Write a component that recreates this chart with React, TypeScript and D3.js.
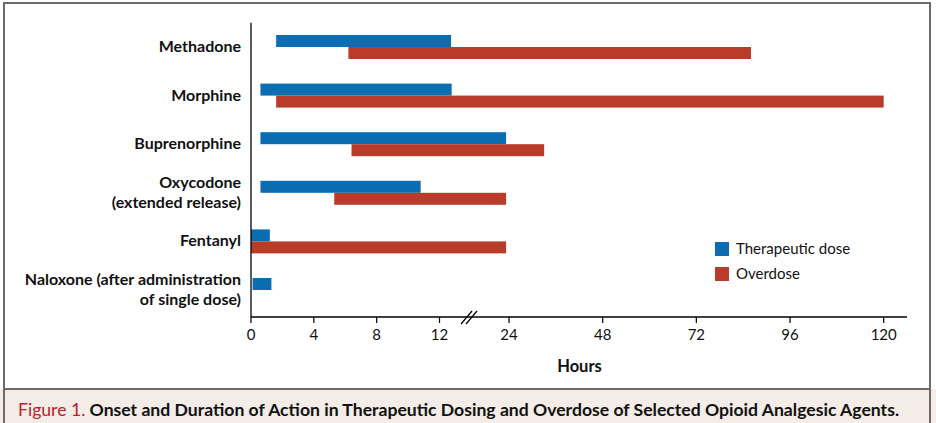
import React from "react";
import * as d3 from "d3";

const categories = [
  "Methadone",
  "Morphine",
  "Buprenorphine",
  "Oxycodone\n(extended release)",
  "Fentanyl",
  "Naloxone (after administration\nof single dose)",
];
const therapeuticStart = [1.6, 0.6, 0.6, 0.6, 0, 0.1];
const therapeuticEnd = [14, 14.1, 23.5, 10.8, 1.2, 1.3];
const overdoseStart: (number | null)[] = [6.2, 1.6, 6.4, 5.3, 0, null];
const overdoseEnd: (number | null)[] = [86, 120, 33, 23.5, 23.5, null];
const tickValues = [0, 4, 8, 12, 24, 48, 72, 96, 120];
const seriesNames = ["Therapeutic dose", "Overdose"];
const captionLead = "Figure 1.";
const captionText =
  " Onset and Duration of Action in Therapeutic Dosing and Overdose of Selected Opioid Analgesic Agents.";
const axisTitle = "Hours";

const BLUE = "#0c6db3";
const RED = "#b93c2b";
const FONT = "Lato, 'Open Sans', sans-serif";

export default function App() {
  const W = 936;
  const H = 423;
  const x = d3.scaleLinear().domain([0, 12, 24, 120]).range([251, 439.5, 509, 883.7]);
  const y = d3.scaleBand<string>().domain(categories).range([22.7, 314.3]);
  const axisY = 317;
  const barH = 12;
  const color = d3.scaleOrdinal<string, string>().domain(seriesNames).range([BLUE, RED]);

  return (
    <svg
      width={W}
      height={H}
      style={{ position: "absolute", left: 0, top: 0, background: "#fff" }}
      fontFamily={FONT}
    >
      {/* caption band */}
      <rect x={0} y={389} width={W} height={H - 389} fill="#f3ece7" />
      <rect x={4} y={3} width={926} height={H + 10} fill="none" stroke="#6b6b6b" strokeWidth={2} />
      <line x1={4} x2={930} y1={389} y2={389} stroke="#6b6b6b" strokeWidth={2} />

      {/* bars */}
      {categories.map((c, i) => {
        const cy = (y(c) as number) + y.bandwidth() / 2;
        const os = overdoseStart[i];
        const oe = overdoseEnd[i];
        return (
          <g key={c}>
            <rect
              x={x(therapeuticStart[i])}
              y={cy - barH}
              width={x(therapeuticEnd[i]) - x(therapeuticStart[i])}
              height={barH}
              fill={color(seriesNames[0])}
            />
            {os != null && oe != null && (
              <rect x={x(os)} y={cy} width={x(oe) - x(os)} height={barH} fill={color(seriesNames[1])} />
            )}
          </g>
        );
      })}

      {/* category labels */}
      {categories.map((c) => {
        const cy = (y(c) as number) + y.bandwidth() / 2;
        const lines = c.split("\n");
        return (
          <text key={c} textAnchor="end" fontWeight="bold" fontSize={16} fill="#111">
            {lines.map((l, j) => (
              <tspan key={j} x={241} y={lines.length === 1 ? cy + 5 : cy - 5 + j * 20}>
                {l}
              </tspan>
            ))}
          </text>
        );
      })}

      {/* y axis line */}
      <line x1={251} x2={251} y1={22.7} y2={axisY} stroke="#000" strokeWidth={1.3} />
      {/* x axis */}
      <line x1={251} x2={907} y1={axisY} y2={axisY} stroke="#000" strokeWidth={1.3} />
      {tickValues.map((t) => (
        <g key={t}>
          <line x1={x(t)} x2={x(t)} y1={axisY} y2={axisY + 6} stroke="#000" strokeWidth={1.2} />
          <text x={x(t)} y={339.5} textAnchor="middle" fontSize={15} fill="#111">
            {t}
          </text>
        </g>
      ))}
      {/* break marks */}
      <line x1={461} x2={472} y1={324} y2={311} stroke="#000" strokeWidth={1.2} />
      <line x1={466} x2={477} y1={324} y2={311} stroke="#000" strokeWidth={1.2} />

      <text x={579.5} y={371.5} textAnchor="middle" fontWeight="bold" fontSize={16.5} fill="#111">
        {axisTitle}
      </text>

      {/* legend */}
      {seriesNames.map((s, i) => (
        <g key={s}>
          <rect x={715} y={242 + i * 25} width={14} height={14} fill={color(s)} />
          <text x={736} y={253.5 + i * 25} fontSize={15} fill="#111">
            {s}
          </text>
        </g>
      ))}

      {/* caption */}
      <text x={18} y={416} fontSize={17.6} fontWeight="bold" fill="#111">
        <tspan fill="#b5232e" fontWeight="normal">{captionLead}</tspan>
        <tspan>{captionText}</tspan>
      </text>
    </svg>
  );
}
